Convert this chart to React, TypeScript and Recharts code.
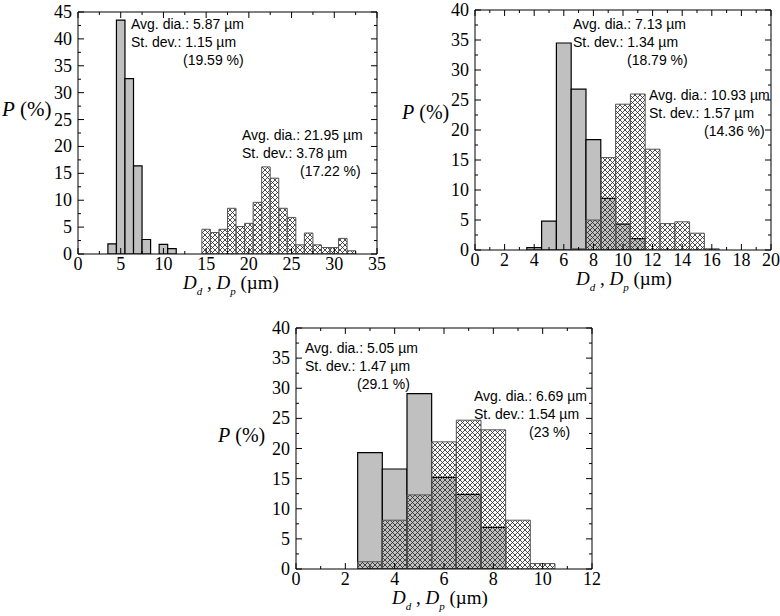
import React from "react";
import { BarChart, Bar, XAxis, YAxis } from "recharts";

// bin centres (µm) and percentages per bin
const binsA = [4, 5, 6, 7, 8, 9, 10, 11, 12, 13, 14, 15, 16, 17, 18, 19, 20, 21, 22, 23, 24, 25, 26, 27, 28, 29, 30, 31, 32];
const dropsA = [1.9, 43.5, 32.6, 16.4, 2.7, 0, 1.8, 1.0, 0, 0, 0, 0, 0, 0, 0, 0, 0, 0, 0, 0, 0, 0, 0, 0, 0, 0, 0, 0, 0];
const partsA = [0, 0, 0, 0, 0, 0, 0, 0, 0, 0, 0, 4.6, 4.0, 4.6, 8.5, 5.1, 5.7, 9.6, 16.2, 14.1, 8.5, 6.8, 1.7, 3.9, 1.7, 1.2, 1.2, 2.9, 0.6];

const binsB = [4, 5, 6, 7, 8, 9, 10, 11, 12, 13, 14, 15, 16];
const dropsB = [0.4, 4.8, 34.5, 26.8, 18.4, 8.6, 4.3, 1.9, 0, 0, 0, 0, 0];
const partsB = [0, 0, 0, 0.2, 5.0, 15.4, 24.3, 26.0, 16.8, 4.4, 4.7, 2.8, 0.2];

const binsC = [3, 4, 5, 6, 7, 8, 9, 10];
const dropsC = [19.3, 16.6, 29.1, 15.2, 12.4, 6.9, 0, 0];
const partsC = [1.2, 8.1, 12.3, 21.1, 24.7, 23.1, 8.1, 0.9];

const xTicksA = [0, 2.5, 5, 7.5, 10, 12.5, 15, 17.5, 20, 22.5, 25, 27.5, 30, 32.5, 35];
const yTicksA = [0, 2.5, 5, 7.5, 10, 12.5, 15, 17.5, 20, 22.5, 25, 27.5, 30, 32.5, 35, 37.5, 40, 42.5, 45];
const xTicksB = [0, 1, 2, 3, 4, 5, 6, 7, 8, 9, 10, 11, 12, 13, 14, 15, 16, 17, 18, 19, 20];
const xTicksC = [0, 1, 2, 3, 4, 5, 6, 7, 8, 9, 10, 11, 12];
const yTicks40 = [0, 2.5, 5, 7.5, 10, 12.5, 15, 17.5, 20, 22.5, 25, 27.5, 30, 32.5, 35, 37.5, 40];

const notesA = [
  ["Avg. dia.: 5.87 µm", "St. dev.: 1.15 µm", "(19.59 %)"],
  ["Avg. dia.: 21.95 µm", "St. dev.: 3.78 µm", "(17.22 %)"],
];
const notesB = [
  ["Avg. dia.: 7.13 µm", "St. dev.: 1.34 µm", "(18.79 %)"],
  ["Avg. dia.: 10.93 µm", "St. dev.: 1.57 µm", "(14.36 %)"],
];
const notesC = [
  ["Avg. dia.: 5.05 µm", "St. dev.: 1.47 µm", "(29.1 %)"],
  ["Avg. dia.: 6.69 µm", "St. dev.: 1.54 µm", "(23 %)"],
];

const SERIF = "Liberation Serif, Times New Roman, serif";
const SANS = "Liberation Sans, Arial, sans-serif";

const isMajor = (v: number, step: number) =>
  Math.abs(v / step - Math.round(v / step)) < 1e-6;

// frame ticks point inwards; only bottom and left carry numbers
const makeTick = (side: string, step: number) => (props: any) => {
  const { x, y, payload } = props;
  const v = payload.value;
  const major = isMajor(v, step);
  const len = major ? 6 : 3;
  let line;
  let label = null;
  if (side === "bottom") {
    line = <line x1={x} y1={y} x2={x} y2={y - len} stroke="#000" />;
    if (major)
      label = (
        <text x={x} y={y + 16} textAnchor="middle" fontFamily={SERIF} fontSize={18} fill="#000">
          {v}
        </text>
      );
  } else if (side === "top") {
    line = <line x1={x} y1={y} x2={x} y2={y + len} stroke="#000" />;
  } else if (side === "left") {
    line = <line x1={x} y1={y} x2={x + len} y2={y} stroke="#000" />;
    if (major)
      label = (
        <text x={x - 6} y={y + 6} textAnchor="end" fontFamily={SERIF} fontSize={18} fill="#000">
          {v}
        </text>
      );
  } else {
    line = <line x1={x} y1={y} x2={x - len} y2={y} stroke="#000" />;
  }
  return (
    <g>
      {line}
      {label}
    </g>
  );
};

interface PanelProps {
  left: number;
  top: number;
  width: number;
  height: number;
  plot: { top: number; right: number; bottom: number; left: number };
  bins: number[];
  drops: number[];
  parts: number[];
  xMax: number;
  yMax: number;
  xTicks: number[];
  yTicks: number[];
  xStep: number;
}

const Panel = (p: PanelProps) => {
  const data = p.bins.map((b, i) => ({ d: b, g: p.drops[i], h: p.parts[i] }));
  const plotW = p.width - p.plot.left - p.plot.right;
  const unit = plotW / p.xMax;
  // each frame axis takes 1px, so the margins are one less than the plot insets
  const margin = {
    top: p.plot.top - 1,
    right: p.plot.right - 1,
    bottom: p.plot.bottom - 1,
    left: p.plot.left - 1,
  };
  const axisCommon = {
    type: "number" as const,
    interval: 0 as const,
    tickSize: 0,
    tickMargin: 0,
    tickLine: false,
    axisLine: { stroke: "#000" },
    allowDataOverflow: true,
  };
  return (
    <div style={{ position: "absolute", left: p.left, top: p.top }}>
      <BarChart
        width={p.width}
        height={p.height}
        data={data}
        margin={margin}
        barCategoryGap={0}
        barGap={0}
      >
        <XAxis
          {...axisCommon}
          xAxisId="b"
          dataKey="d"
          orientation="bottom"
          height={1}
          domain={[0, p.xMax]}
          ticks={p.xTicks}
          tick={makeTick("bottom", p.xStep)}
        />
        <XAxis
          {...axisCommon}
          xAxisId="t"
          dataKey="d"
          orientation="top"
          height={1}
          domain={[0, p.xMax]}
          ticks={p.xTicks}
          tick={makeTick("top", p.xStep)}
        />
        <YAxis
          {...axisCommon}
          yAxisId="l"
          orientation="left"
          width={1}
          domain={[0, p.yMax]}
          ticks={p.yTicks}
          tick={makeTick("left", 5)}
        />
        <YAxis
          {...axisCommon}
          yAxisId="r"
          orientation="right"
          width={1}
          domain={[0, p.yMax]}
          ticks={p.yTicks}
          tick={makeTick("right", 5)}
        />
        <Bar
          xAxisId="b"
          yAxisId="l"
          dataKey="g"
          fill="#c0c0c0"
          stroke="#000"
          strokeWidth={1.2}
          barSize={unit - 0.02}
          isAnimationActive={false}
        />
        <Bar
          xAxisId="t"
          yAxisId="l"
          dataKey="h"
          fill="url(#xhatch)"
          stroke="#555"
          strokeWidth={1}
          barSize={unit - 0.02}
          isAnimationActive={false}
        />
      </BarChart>
    </div>
  );
};

const Note = ({ lines, x, y, indent }: { lines: string[]; x: number; y: number; indent: number }) => (
  <g fontFamily={SANS} fontSize={14} fill="#000">
    <text x={x} y={y}>{lines[0]}</text>
    <text x={x} y={y + 18}>{lines[1]}</text>
    <text x={x + indent} y={y + 36}>{lines[2]}</text>
  </g>
);

const XLabel = ({ x, y }: { x: number; y: number }) => (
  <text x={x} y={y} fontFamily={SERIF} fontSize={19} fill="#000">
    <tspan fontStyle="italic">D</tspan>
    <tspan fontStyle="italic" fontSize={11} dy={6}>d</tspan>
    <tspan dy={-6}> , </tspan>
    <tspan fontStyle="italic">D</tspan>
    <tspan fontStyle="italic" fontSize={11} dy={6}>p</tspan>
    <tspan dy={-6}> (µm)</tspan>
  </text>
);

const YLabel = ({ x, y, size }: { x: number; y: number; size: number }) => (
  <text x={x} y={y} fontFamily={SERIF} fontSize={size} fill="#000">
    <tspan fontStyle="italic">P</tspan>
    <tspan> (%)</tspan>
  </text>
);

export default function App() {
  return (
    <div style={{ position: "absolute", left: 0, top: 0, width: 780, height: 616, background: "#fff" }}>
      <svg width={0} height={0} style={{ position: "absolute" }}>
        <defs>
          <pattern id="xhatch" patternUnits="userSpaceOnUse" width={5} height={5}>
            <path d="M0,0 L5,5 M5,0 L0,5" stroke="#222" strokeWidth={0.8} />
          </pattern>
        </defs>
      </svg>
      <Panel
        left={0}
        top={0}
        width={390}
        height={300}
        plot={{ top: 12, right: 13, bottom: 46, left: 78 }}
        bins={binsA}
        drops={dropsA}
        parts={partsA}
        xMax={35}
        yMax={45}
        xTicks={xTicksA}
        yTicks={yTicksA}
        xStep={5}
      />
      <Panel
        left={390}
        top={0}
        width={390}
        height={300}
        plot={{ top: 10, right: 9, bottom: 50, left: 85 }}
        bins={binsB}
        drops={dropsB}
        parts={partsB}
        xMax={20}
        yMax={40}
        xTicks={xTicksB}
        yTicks={yTicks40}
        xStep={2}
      />
      <Panel
        left={200}
        top={310}
        width={420}
        height={306}
        plot={{ top: 18, right: 28, bottom: 47, left: 96 }}
        bins={binsC}
        drops={dropsC}
        parts={partsC}
        xMax={12}
        yMax={40}
        xTicks={xTicksC}
        yTicks={yTicks40}
        xStep={2}
      />
      <svg
        width={780}
        height={616}
        style={{ position: "absolute", left: 0, top: 0, pointerEvents: "none" }}
      >
        <Note lines={notesA[0]} x={131} y={29} indent={52} />
        <Note lines={notesA[1]} x={242} y={140} indent={58} />
        <Note lines={notesB[0]} x={573} y={29} indent={54} />
        <Note lines={notesB[1]} x={649} y={100} indent={55} />
        <Note lines={notesC[0]} x={305} y={353} indent={52} />
        <Note lines={notesC[1]} x={474} y={401} indent={55} />
        <YLabel x={2} y={116} size={21} />
        <YLabel x={402} y={119} size={20} />
        <YLabel x={218} y={442} size={20} />
        <XLabel x={183} y={289} />
        <XLabel x={576} y={285} />
        <XLabel x={392} y={604} />
      </svg>
    </div>
  );
}
